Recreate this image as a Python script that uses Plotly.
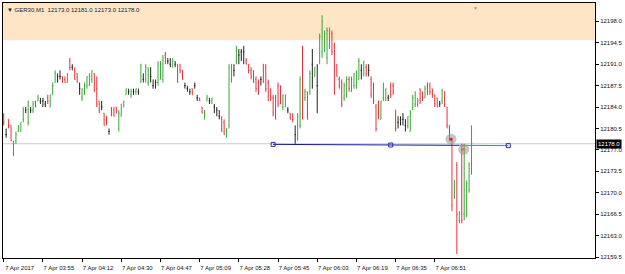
import plotly.graph_objects as go

# ---------------- data (GER30, M1) ----------------
bar_index = list(range(192))

opens = [12182.5, 12179.5, 12182.0, 12181.0, 12176.5, 12178.5, 12180.0, 12180.0, 12182.0, 12183.5,
         12181.5, 12183.5, 12183.5, 12185.0, 12185.0, 12185.0, 12185.0, 12184.5, 12185.5, 12184.0,
         12186.0, 12188.0, 12189.0, 12189.0, 12189.0, 12188.5, 12188.0, 12191.5, 12190.5, 12190.0,
         12189.5, 12187.0, 12185.5, 12186.0, 12187.5, 12187.5, 12188.5, 12189.5, 12187.0, 12185.0,
         12184.0, 12183.0, 12182.5, 12180.0, 12183.5, 12183.5, 12184.0, 12180.5, 12182.5, 12184.0,
         12186.0, 12186.5, 12186.0, 12186.5, 12186.5, 12186.5, 12188.0, 12188.5, 12188.5, 12188.0,
         12189.0, 12187.5, 12188.0, 12188.0, 12188.5, 12188.5, 12192.5, 12191.5, 12191.0, 12190.5,
         12191.0, 12191.0, 12191.0, 12190.0, 12187.5, 12187.0, 12186.5, 12187.0, 12187.5, 12185.5,
         12185.5, 12184.0, 12182.0, 12185.0, 12185.0, 12185.0, 12184.0, 12183.5, 12182.5, 12182.0,
         12181.5, 12179.0, 12181.0, 12188.5, 12190.0, 12191.5, 12192.5, 12193.0, 12193.0, 12191.5,
         12191.0, 12190.0, 12190.0, 12188.5, 12188.0, 12188.5, 12191.0, 12190.5, 12188.0, 12187.0,
         12185.5, 12185.5, 12187.5, 12187.5, 12184.0, 12184.0, 12183.5, 12183.0, 12182.5, 12179.5,
         12179.0, 12181.0, 12193.0, 12185.5, 12186.5, 12186.5, 12191.0, 12189.0, 12187.5, 12191.5,
         12193.0, 12193.5, 12192.0, 12194.0, 12196.0, 12194.0, 12191.0, 12188.5, 12188.0, 12185.5,
         12186.0, 12188.5, 12186.5, 12187.5, 12187.5, 12188.5, 12190.0, 12189.5, 12190.5, 12190.0,
         12188.5, 12187.5, 12184.0, 12185.0, 12182.0, 12185.5, 12185.5, 12185.5, 12187.5, 12187.5,
         12183.5, 12181.5, 12182.0, 12182.0, 12181.0, 12181.0, 12180.0, 12184.0, 12184.5, 12184.5,
         12187.0, 12186.5, 12185.5, 12187.5, 12187.5, 12187.0, 12186.0, 12185.5, 12184.5, 12185.0,
         12186.5, 12184.0, 12181.0, 12178.5, 12169.5, 12174.5, 12165.5, 12177.0, 12166.5, 12166.5,
         12170.5, 12173.0]

highs = [12183.0, 12180.5, 12182.0, 12181.0, 12178.5, 12180.0, 12181.0, 12181.5, 12184.0, 12184.0,
         12185.0, 12184.0, 12185.0, 12185.0, 12186.0, 12185.5, 12185.5, 12185.0, 12186.0, 12186.0,
         12188.0, 12190.0, 12189.5, 12190.0, 12189.0, 12189.0, 12189.5, 12192.0, 12191.0, 12190.5,
         12189.5, 12188.0, 12187.0, 12188.0, 12189.0, 12189.5, 12190.0, 12189.5, 12189.0, 12185.0,
         12185.0, 12183.0, 12182.5, 12180.5, 12184.0, 12184.0, 12184.0, 12183.5, 12184.5, 12185.0,
         12187.0, 12187.0, 12187.0, 12187.0, 12187.0, 12187.0, 12191.0, 12189.5, 12191.0, 12190.5,
         12190.5, 12188.5, 12188.5, 12191.5, 12191.5, 12192.5, 12193.0, 12192.0, 12192.0, 12192.0,
         12191.5, 12191.0, 12191.0, 12190.0, 12188.0, 12187.5, 12187.0, 12187.0, 12188.0, 12186.0,
         12185.5, 12184.0, 12183.5, 12186.0, 12185.5, 12185.5, 12184.5, 12184.0, 12183.5, 12182.5,
         12182.0, 12180.5, 12191.0, 12191.0, 12191.0, 12194.0, 12193.5, 12193.5, 12194.0, 12192.0,
         12191.0, 12190.5, 12190.0, 12189.0, 12188.5, 12189.0, 12191.0, 12191.0, 12188.5, 12187.0,
         12186.0, 12186.0, 12188.0, 12187.5, 12186.0, 12186.0, 12184.0, 12183.0, 12183.0, 12181.0,
         12183.0, 12189.0, 12194.0, 12187.0, 12186.5, 12190.0, 12193.5, 12190.5, 12191.0, 12196.0,
         12199.0, 12196.5, 12197.0, 12197.0, 12196.5, 12194.5, 12191.0, 12189.0, 12188.5, 12188.0,
         12189.0, 12189.0, 12189.0, 12189.5, 12190.0, 12192.0, 12191.0, 12191.5, 12191.0, 12191.0,
         12189.0, 12188.0, 12184.5, 12185.0, 12185.0, 12188.0, 12187.0, 12186.0, 12188.0, 12188.0,
         12183.5, 12182.5, 12182.5, 12183.0, 12182.0, 12182.5, 12183.5, 12186.0, 12186.5, 12185.5,
         12187.0, 12186.5, 12187.5, 12188.0, 12188.0, 12187.0, 12186.0, 12185.5, 12185.0, 12187.0,
         12186.5, 12184.0, 12181.0, 12179.0, 12172.0, 12175.0, 12167.0, 12178.0, 12178.0, 12172.0,
         12175.0, 12181.0]

lows = [12181.0, 12179.0, 12180.5, 12178.5, 12176.0, 12178.0, 12180.0, 12180.0, 12181.5, 12183.0,
        12181.0, 12183.0, 12183.0, 12184.0, 12185.0, 12184.5, 12184.0, 12184.0, 12184.5, 12184.0,
        12186.0, 12188.0, 12188.0, 12188.5, 12188.0, 12188.0, 12188.0, 12190.0, 12190.0, 12188.5,
        12188.0, 12186.0, 12185.0, 12186.0, 12187.0, 12187.5, 12188.0, 12186.5, 12184.0, 12183.0,
        12183.5, 12181.0, 12181.0, 12179.5, 12182.5, 12182.5, 12183.0, 12180.0, 12182.5, 12184.0,
        12186.0, 12186.0, 12185.5, 12186.0, 12186.0, 12186.0, 12188.0, 12188.0, 12188.0, 12187.5,
        12188.0, 12187.0, 12187.0, 12187.5, 12188.5, 12188.0, 12191.0, 12191.0, 12190.5, 12190.5,
        12190.5, 12188.0, 12189.5, 12188.5, 12187.0, 12186.5, 12186.0, 12186.0, 12187.0, 12185.0,
        12185.0, 12183.0, 12182.0, 12185.0, 12184.5, 12184.5, 12183.0, 12182.5, 12182.0, 12180.0,
        12179.5, 12179.0, 12180.5, 12188.0, 12189.0, 12191.0, 12191.0, 12191.5, 12191.0, 12191.0,
        12189.5, 12188.5, 12188.0, 12186.5, 12186.0, 12187.5, 12188.0, 12186.5, 12185.0, 12185.0,
        12182.5, 12182.0, 12184.0, 12184.5, 12183.5, 12184.0, 12183.0, 12182.0, 12181.5, 12178.0,
        12178.5, 12180.5, 12182.0, 12185.0, 12182.0, 12186.0, 12187.0, 12189.0, 12183.0, 12191.0,
        12192.0, 12193.0, 12191.0, 12193.5, 12192.5, 12186.0, 12189.0, 12187.0, 12184.0, 12185.0,
        12185.5, 12186.5, 12186.5, 12187.0, 12187.0, 12188.5, 12188.5, 12189.0, 12189.0, 12189.0,
        12185.5, 12184.5, 12180.0, 12182.0, 12182.0, 12185.0, 12185.0, 12185.0, 12185.5, 12186.0,
        12180.0, 12180.5, 12181.0, 12181.0, 12180.0, 12180.5, 12180.0, 12183.5, 12184.0, 12184.0,
        12184.5, 12185.0, 12185.5, 12186.0, 12186.0, 12185.5, 12184.0, 12184.0, 12184.0, 12184.5,
        12184.0, 12180.5, 12178.5, 12167.0, 12169.0, 12160.0, 12165.0, 12165.0, 12165.5, 12166.0,
        12170.0, 12173.0]

closes = [12181.5, 12179.5, 12181.0, 12178.5, 12178.0, 12179.5, 12181.0, 12181.5, 12183.5, 12183.5,
          12185.0, 12183.5, 12184.5, 12184.0, 12185.5, 12185.0, 12185.0, 12184.5, 12185.0, 12186.0,
          12187.5, 12189.5, 12189.0, 12189.0, 12188.0, 12188.0, 12189.5, 12190.5, 12190.5, 12188.5,
          12188.0, 12187.0, 12187.0, 12187.5, 12189.0, 12189.0, 12190.0, 12186.5, 12184.5, 12183.5,
          12184.0, 12181.0, 12181.5, 12180.0, 12183.0, 12182.5, 12183.0, 12183.0, 12184.5, 12185.0,
          12187.0, 12186.5, 12186.5, 12186.5, 12187.0, 12186.5, 12191.0, 12188.5, 12190.5, 12190.0,
          12189.0, 12187.5, 12188.0, 12191.0, 12191.0, 12192.0, 12191.5, 12191.5, 12191.0, 12191.5,
          12191.0, 12188.0, 12190.0, 12188.5, 12187.5, 12187.0, 12186.5, 12186.0, 12187.5, 12185.5,
          12185.0, 12183.0, 12183.0, 12185.5, 12185.0, 12185.5, 12184.0, 12183.5, 12182.5, 12180.0,
          12179.5, 12180.5, 12190.5, 12191.0, 12190.0, 12193.5, 12192.5, 12193.0, 12193.0, 12191.0,
          12190.0, 12189.0, 12188.0, 12187.0, 12186.5, 12188.5, 12188.0, 12187.0, 12185.0, 12185.5,
          12183.0, 12182.0, 12184.5, 12184.5, 12186.0, 12186.0, 12183.5, 12182.0, 12182.0, 12179.5,
          12182.5, 12188.5, 12182.0, 12186.5, 12182.0, 12189.5, 12191.0, 12190.5, 12187.5, 12195.5,
          12198.0, 12196.0, 12196.5, 12196.5, 12193.0, 12186.5, 12189.0, 12187.5, 12184.5, 12187.5,
          12188.5, 12187.0, 12188.5, 12189.5, 12189.5, 12191.5, 12190.0, 12191.5, 12189.5, 12190.0,
          12186.0, 12185.0, 12180.5, 12182.5, 12185.0, 12187.5, 12187.0, 12185.5, 12186.0, 12186.5,
          12180.5, 12181.5, 12182.0, 12182.0, 12181.0, 12182.5, 12183.0, 12185.5, 12186.5, 12185.0,
          12185.0, 12185.5, 12187.0, 12186.0, 12186.5, 12186.0, 12184.5, 12184.0, 12184.5, 12186.5,
          12184.5, 12181.0, 12179.0, 12168.0, 12172.0, 12166.5, 12166.5, 12165.5, 12176.5, 12171.5,
          12174.0, 12178.0]

tick_bars = [0, 16, 32, 48, 64, 80, 96, 112, 128, 144, 160, 176]
tick_text = ["7 Apr 2017", "7 Apr 03:55", "7 Apr 04:12", "7 Apr 04:30", "7 Apr 04:47",
             "7 Apr 05:09", "7 Apr 05:28", "7 Apr 05:45", "7 Apr 06:03", "7 Apr 06:19",
             "7 Apr 06:35", "7 Apr 06:51"]

zone_floor = 12194.9          # shaded resistance zone lower bound
bid_price = 12178.0
trend_dark_bars = [110, 158, 186]
trend_dark_prices = [12177.9, 12177.8, 12177.75]
trend_light_bars = [186, 206]
trend_light_prices = [12177.75, 12177.7]
trend_marker_bars = [110, 158, 206]
trend_marker_prices = [12177.9, 12177.8, 12177.7]
signal_bars = [182.6, 187.8]
signal_prices = [12178.75, 12177.1]

header = "\u25bc GER30,M1  12173.0 12181.0 12173.0 12178.0"

GREEN = "#3ba43b"
RED = "#e5303a"
FONT = "Liberation Sans"

def subset(cond):
    idx = [i for i in bar_index if cond(opens[i], closes[i])]
    return (idx, [opens[i] for i in idx], [highs[i] for i in idx],
            [lows[i] for i in idx], [closes[i] for i in idx])

fig = go.Figure()
for cond, col in [(lambda o, c: c > o, GREEN), (lambda o, c: c < o, RED), (lambda o, c: c == o, "#222222")]:
    x, o, h, l, c = subset(cond)
    fig.add_trace(go.Ohlc(x=x, open=o, high=h, low=l, close=c, tickwidth=0.28,
                          increasing=dict(line=dict(color=col, width=1)),
                          decreasing=dict(line=dict(color=col, width=1)),
                          hoverinfo="skip"))

# trend line
fig.add_trace(go.Scatter(x=trend_dark_bars, y=trend_dark_prices, mode="lines",
                         line=dict(color="#1c1c9c", width=1), hoverinfo="skip"))
fig.add_trace(go.Scatter(x=trend_light_bars, y=trend_light_prices, mode="lines",
                         line=dict(color="#6a6aee", width=1), hoverinfo="skip"))
fig.add_trace(go.Scatter(x=trend_marker_bars, y=trend_marker_prices, mode="markers",
                         marker=dict(symbol="square-open", size=4, color="#2a2ab0", line=dict(width=1)),
                         hoverinfo="skip"))
# trade signal circles
fig.add_trace(go.Scatter(x=signal_bars, y=signal_prices, mode="markers",
                         marker=dict(symbol="circle", size=11, color="rgba(150,150,150,0.55)"),
                         hoverinfo="skip"))
fig.add_trace(go.Scatter(x=signal_bars, y=signal_prices, mode="markers",
                         marker=dict(symbol="circle", size=3, color=["#e0202a", "#d08040"]),
                         hoverinfo="skip"))

fig.update_layout(
    width=625, height=274,
    margin=dict(l=2, r=28, t=2, b=16),
    paper_bgcolor="white", plot_bgcolor="white",
    showlegend=False,
    font=dict(family=FONT, size=6, color="#111111"),
    shapes=[
        dict(type="rect", xref="paper", x0=0, x1=1, yref="y", y0=zone_floor, y1=12202,
             fillcolor="#fde5c6", line=dict(width=0), layer="below"),
        dict(type="line", xref="paper", x0=0, x1=1, yref="y", y0=bid_price, y1=bid_price,
             line=dict(color="#c8c8c8", width=1), layer="below"),
    ],
    annotations=[
        dict(text=header, xref="paper", yref="paper", x=0.004, y=0.992, xanchor="left",
             yanchor="top", showarrow=False, font=dict(size=6, color="#222222", family=FONT)),
        dict(text="12178.0", xref="paper", yref="y", x=1, y=bid_price, xanchor="left",
             yanchor="middle", xshift=1, showarrow=False, bgcolor="#000000", borderpad=1,
             font=dict(size=6, color="#ffffff", family=FONT)),
        dict(text="\u25bc", xref="x", yref="paper", x=192.6, y=1, yanchor="top",
             showarrow=False, font=dict(size=5, color="#999999")),
    ],
)
fig.update_xaxes(range=[-0.28, 241.4], tickmode="array", tickvals=tick_bars, ticktext=tick_text,
                 ticks="outside", ticklen=3, tickcolor="#000", showline=True, linecolor="#000",
                 linewidth=1, mirror=True, showgrid=False, zeroline=False,
                 ticklabelshift=16, ticklabelstandoff=1, rangeslider=dict(visible=False),
                 tickfont=dict(size=6, color="#111111"))
fig.update_yaxes(side="right", range=[12159.34, 12201.0], tick0=12159.5, dtick=3.5,
                 tickformat=".1f", ticks="outside", ticklen=3, tickcolor="#000", showline=True,
                 linecolor="#000", linewidth=1, mirror=True, showgrid=False, zeroline=False,
                 tickfont=dict(size=6, color="#111111"))

fig.write_html("out.html")
